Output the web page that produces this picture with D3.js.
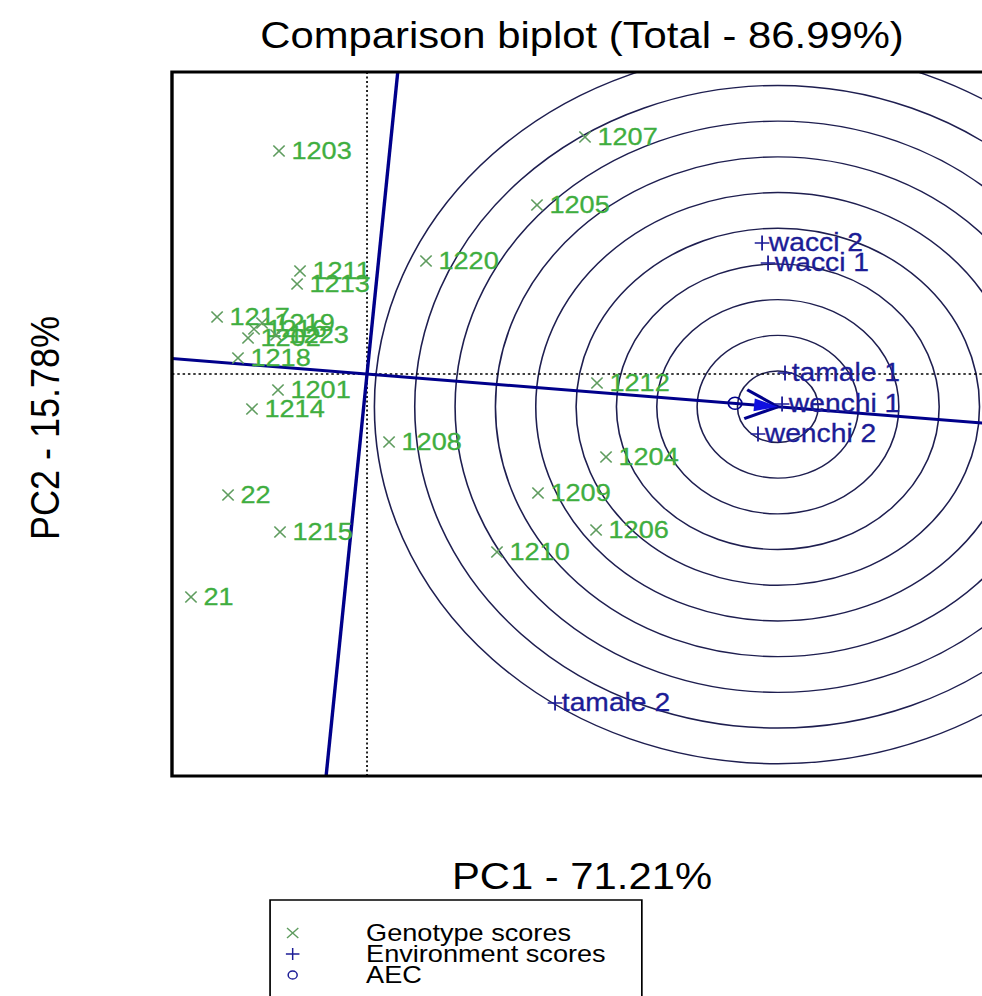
<!DOCTYPE html>
<html>
<head>
<meta charset="utf-8">
<script src="https://cdn.jsdelivr.net/npm/d3@7"></script>
<style>
  body { margin: 0; background: #fff; }
  svg { display: block; }
</style>
</head>
<body>
<div id="chart"></div>
<script>
// genotype scores (PC1, PC2)
var genotypes = ["1201", "1202", "1203", "1204", "1205", "1206", "1207", "1208", "1209", "1210", "1211",
                 "1212", "1213", "1214", "1215", "1216", "1217", "1218", "1219", "1220", "1223", "21", "22"];
var genoX = [-0.788, -1.053, -0.779, 2.115, 1.504, 2.027, 1.929, 0.195, 1.513, 1.150, -0.593,
             2.035, -0.619, -1.018, -0.770, -1.000, -1.327, -1.142, -0.929, 0.522, -0.805, -1.558, -1.230];
var genoY = [-0.16, 0.36, 2.23, -0.83, 1.69, -1.56, 2.37, -0.68, -1.19, -1.78, 1.03,
             -0.09, 0.90, -0.35, -1.58, 0.45, 0.57, 0.16, 0.51, 1.13, 0.39, -2.23, -1.21];

// environment scores
var environments = ["wacci 2", "wacci 1", "tamale 1", "wenchi 1", "wenchi 2", "tamale 2"];
var envX = [3.496, 3.549, 3.699, 3.673, 3.460, 1.664];
var envY = [1.31, 1.11, 0.01, -0.30, -0.60, -3.29];

var xDomain = [-1.726, 5.531];
var yDomain = [-4.02, 3.02];
var idealLength = 3.65;   // distance of the ideal genotype along the AEC
var circleStep = 0.357;
var nCircles = 10;

var titleText = "Comparison biplot (Total - 86.99%)";
var xLabel = "PC1 - 71.21%";
var yLabel = "PC2 - 15.78%";
var legendLabels = ["Genotype scores", "Environment scores", "AEC"];

// the picture is stretched sideways, so draw in an inner frame and stretch it
var stretch = 1.13;
var W = 982, H = 996;
var plot = {left: 152.2, right: 877.9, top: 72, bottom: 776};

var genoCol = "#3fae3f", genoMark = "#5f9c5f", envCol = "#1c1c96", lineCol = "#00008b";
var font = "'Liberation Sans', Arial, sans-serif";

var svg = d3.select("#chart").append("svg")
    .attr("width", W)
    .attr("height", H);

var g = svg.append("g").attr("transform", "scale(" + stretch + ",1)");

var x = d3.scaleLinear().domain(xDomain).range([plot.left, plot.right]);
var y = d3.scaleLinear().domain(yDomain).range([plot.bottom, plot.top]);

g.append("clipPath").attr("id", "plotclip")
  .append("rect")
    .attr("x", plot.left).attr("y", plot.top)
    .attr("width", plot.right - plot.left).attr("height", plot.bottom - plot.top);

var inner = g.append("g").attr("clip-path", "url(#plotclip)");

// AEC direction from mean environment
var mx = d3.mean(envX), my = d3.mean(envY);
var len = Math.sqrt(mx * mx + my * my);
var ux = mx / len, uy = my / len;
var idealX = ux * idealLength, idealY = uy * idealLength;

// concentric circles round the ideal genotype
var radii = d3.range(1, nCircles + 1).map(function(k) { return k * circleStep; });
inner.selectAll("circle.ring").data(radii).enter().append("circle")
    .attr("class", "ring")
    .attr("cx", x(idealX)).attr("cy", y(idealY))
    .attr("r", function(r) { return x(r) - x(0); })
    .attr("fill", "none")
    .attr("stroke", "#1e1e50")
    .attr("stroke-width", 1.4);

// dotted origin lines
inner.append("line")
    .attr("x1", x(0)).attr("x2", x(0)).attr("y1", plot.top).attr("y2", plot.bottom)
    .attr("stroke", "#000").attr("stroke-width", 1.5).attr("stroke-dasharray", "2,2.5");
inner.append("line")
    .attr("x1", plot.left).attr("x2", plot.right).attr("y1", y(0)).attr("y2", y(0))
    .attr("stroke", "#000").attr("stroke-width", 1.5).attr("stroke-dasharray", "2.2,2.5");

// AEC abscissa and ordinate
var far = 20;
inner.append("line")
    .attr("x1", x(-far * ux)).attr("y1", y(-far * uy))
    .attr("x2", x(far * ux)).attr("y2", y(far * uy))
    .attr("stroke", lineCol).attr("stroke-width", 3);
inner.append("line")
    .attr("x1", x(far * uy)).attr("y1", y(-far * ux))
    .attr("x2", x(-far * uy)).attr("y2", y(far * ux))
    .attr("stroke", lineCol).attr("stroke-width", 3);

// arrow head at the ideal genotype
var headLen = 0.32, headAng = 27 * Math.PI / 180;
var ang = Math.atan2(uy, ux);
[-1, 1].forEach(function(s) {
  var a = ang + Math.PI + s * headAng;
  inner.append("line")
      .attr("x1", x(idealX)).attr("y1", y(idealY))
      .attr("x2", x(idealX + headLen * Math.cos(a))).attr("y2", y(idealY + headLen * Math.sin(a)))
      .attr("stroke", lineCol).attr("stroke-width", 3);
});
var blob = [0, 1, -1].map(function(s, i) {
  if (i === 0) return [x(idealX), y(idealY)];
  var a = ang + Math.PI + s * 0.3;
  return [x(idealX + 0.22 * Math.cos(a)), y(idealY + 0.22 * Math.sin(a))];
});
inner.append("path")
    .attr("d", d3.line()(blob) + "Z")
    .attr("fill", "#1010e0");

// AEC marker
g.append("circle")
    .attr("cx", x(mx)).attr("cy", y(my)).attr("r", 6)
    .attr("fill", "none").attr("stroke", lineCol).attr("stroke-width", 1.5);

// genotypes
var geno = genotypes.map(function(name, i) { return {name: name, px: genoX[i], py: genoY[i]}; });
var gg = g.selectAll("g.geno").data(geno).enter().append("g")
    .attr("class", "geno")
    .attr("transform", function(d) { return "translate(" + x(d.px) + "," + y(d.py) + ")"; });
gg.append("path")
    .attr("d", "M-5,-5.5L5,5.5M-5,5.5L5,-5.5")
    .attr("stroke", genoMark).attr("stroke-width", 1.4);
gg.append("text")
    .attr("x", 11).attr("y", 0)
    .attr("dominant-baseline", "central")
    .style("font-family", font).style("font-size", "24px")
    .attr("fill", genoCol)
    .attr("stroke", genoCol).attr("stroke-width", 0.3)
    .text(function(d) { return d.name; });

// environments
var env = environments.map(function(name, i) { return {name: name, px: envX[i], py: envY[i]}; });
var eg = g.selectAll("g.env").data(env).enter().append("g")
    .attr("class", "env")
    .attr("transform", function(d) { return "translate(" + x(d.px) + "," + y(d.py) + ")"; });
eg.append("path")
    .attr("d", "M-6.5,0L6.5,0M0,-7.5L0,7.5")
    .attr("stroke", envCol).attr("stroke-width", 1.6);
eg.append("text")
    .attr("x", 6).attr("y", 0)
    .attr("dominant-baseline", "central")
    .style("font-family", font).style("font-size", "25px")
    .attr("fill", envCol)
    .attr("stroke", envCol).attr("stroke-width", 0.3)
    .text(function(d) { return d.name; });

// frame
g.append("rect")
    .attr("x", plot.left).attr("y", plot.top)
    .attr("width", plot.right - plot.left).attr("height", plot.bottom - plot.top)
    .attr("fill", "none").attr("stroke", "#000").attr("stroke-width", 3);

// titles
var cx = (plot.left + plot.right) / 2;
g.append("text").attr("x", cx).attr("y", 48)
    .attr("text-anchor", "middle")
    .style("font-family", font).style("font-size", "37px")
    .text(titleText);
g.append("text").attr("x", cx).attr("y", 889)
    .attr("text-anchor", "middle")
    .style("font-family", font).style("font-size", "37px")
    .text(xLabel);
g.append("text")
    .attr("transform", "translate(40," + 428 + ") rotate(-90)")
    .attr("text-anchor", "middle")
    .attr("dominant-baseline", "central")
    .style("font-family", font).style("font-size", "36px")
    .text(yLabel);

// legend
var lg = g.append("g");
lg.append("rect")
    .attr("x", 239).attr("y", 900).attr("width", 329).attr("height", 120)
    .attr("fill", "none").attr("stroke", "#000").attr("stroke-width", 1.5);
var rowY = [933, 954, 975];
lg.append("path")
    .attr("d", "M" + (259 - 5) + "," + (rowY[0] - 5) + "l10,10m-10,0l10,-10")
    .attr("stroke", genoMark).attr("stroke-width", 1.2);
lg.append("path")
    .attr("d", "M" + (259 - 6) + "," + rowY[1] + "h12M259," + (rowY[1] - 6) + "v12")
    .attr("stroke", envCol).attr("stroke-width", 1.3);
lg.append("circle")
    .attr("cx", 259).attr("cy", rowY[2]).attr("r", 4)
    .attr("fill", "none").attr("stroke", envCol).attr("stroke-width", 1.3);
lg.selectAll("text").data(legendLabels).enter().append("text")
    .attr("x", 324)
    .attr("y", function(d, i) { return rowY[i]; })
    .attr("dominant-baseline", "central")
    .style("font-family", font).style("font-size", "24px")
    .text(function(d) { return d; });
</script>
</body>
</html>
